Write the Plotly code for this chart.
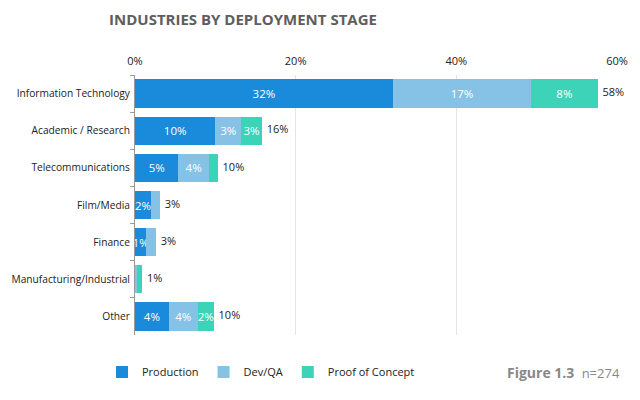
import plotly.graph_objects as go

# ── Dados ────────────────────────────────────────────────────────────────
industries = [
    "Information Technology",
    "Academic / Research",
    "Telecommunications",
    "Film/Media",
    "Finance",
    "Manufacturing/Industrial",
    "Other",
]
production = [32.1, 10.0, 5.4, 2.0, 1.4, 0.0, 4.2]
dev_qa = [17.2, 3.2, 3.8, 1.1, 1.2, 0.2, 3.6]
proof_of_concept = [8.3, 2.6, 1.1, 0.0, 0.0, 0.7, 2.0]
x_ticks = [0, 20, 40, 60]

# ── Cores ────────────────────────────────────────────────────────────────
COLORS = {
    "Production": "#1A8BDB",
    "Dev/QA": "#86C2E6",
    "Proof of Concept": "#3DD3B8",
}
TEXT = "#222222"
GRID = "#E4E4E4"
FONT = "Open Sans"

# a página tem margem de 8px no body: figura um pouco menor que a janela
W, H = 632, 392
L, R, T, B = 127, 23, 67, 65
PLOT_W = W - L - R
PLOT_H = H - T - B


def seg_labels(vals):
    # rótulo só quando o segmento é largo o bastante
    return [f"{round(v)}%" if v >= 1.3 else "" for v in vals]


fig = go.Figure()

for name, vals in [("Production", production),
                   ("Dev/QA", dev_qa),
                   ("Proof of Concept", proof_of_concept)]:
    fig.add_trace(go.Bar(
        name=name,
        y=industries,
        x=vals,
        orientation="h",
        marker=dict(color=COLORS[name], line=dict(width=0)),
        text=seg_labels(vals),
        textposition="inside",
        insidetextanchor="middle",
        textangle=0,
        textfont=dict(color="white", size=11.5, family=FONT),
    ))

# Totais à direita das barras
totals = [p + d + c for p, d, c in zip(production, dev_qa, proof_of_concept)]
fig.add_trace(go.Scatter(
    y=industries,
    x=[t + 0.6 for t in totals],
    mode="text",
    text=[f"{round(t)}%" for t in totals],
    textposition="middle right",
    textfont=dict(color=TEXT, size=11, family=FONT),
    showlegend=False,
    cliponaxis=False,
    hoverinfo="skip",
))

fig.update_layout(
    barmode="stack",
    bargap=0.24,
    width=W,
    height=H,
    paper_bgcolor="white",
    plot_bgcolor="white",
    font=dict(family=FONT, color=TEXT, size=11),
    margin=dict(l=L, r=R, t=T, b=B, autoexpand=False),
    uniformtext=dict(minsize=11.5, mode="show"),
    title=dict(
        text="<b>INDUSTRIES BY DEPLOYMENT STAGE</b>",
        x=235 / W, xanchor="center",
        y=1 - 12 / H, yanchor="middle",
        font=dict(size=15, color="#5E5E5E", family=FONT),
    ),
    legend=dict(
        orientation="h",
        x=(94 - L) / PLOT_W, xref="paper", xanchor="left",
        y=-37 / PLOT_H, yanchor="middle",
        font=dict(size=11, color=TEXT, family=FONT),
        traceorder="normal",
        itemwidth=30,
    ),
    showlegend=True,
)

fig.update_xaxes(
    side="top",
    range=[0, 60],
    tickvals=x_ticks,
    ticktext=[f"{v}%" for v in x_ticks],
    showgrid=True,
    gridcolor=GRID,
    zeroline=False,
    showline=False,
    ticks="",
    ticklabelstandoff=7,
    automargin=False,
    tickfont=dict(size=11, color=TEXT),
)
fig.update_yaxes(
    autorange="reversed",
    showline=True,
    linecolor="#999999",
    ticks="outside",
    tickson="boundaries",
    ticklen=4,
    tickcolor="#999999",
    ticklabelstandoff=2,
    automargin=False,
    tickfont=dict(size=10.2, color=TEXT),
)

fig.add_annotation(
    text="<b>Figure 1.3</b>  <span style='color:#888888;font-size:13px'>n=274</span>",
    xref="paper", yref="paper",
    x=(614 - L) / PLOT_W, xanchor="right",
    y=-37 / PLOT_H, yanchor="middle",
    showarrow=False,
    font=dict(size=14, color="#888888", family=FONT),
)

fig.write_html("out.html")
